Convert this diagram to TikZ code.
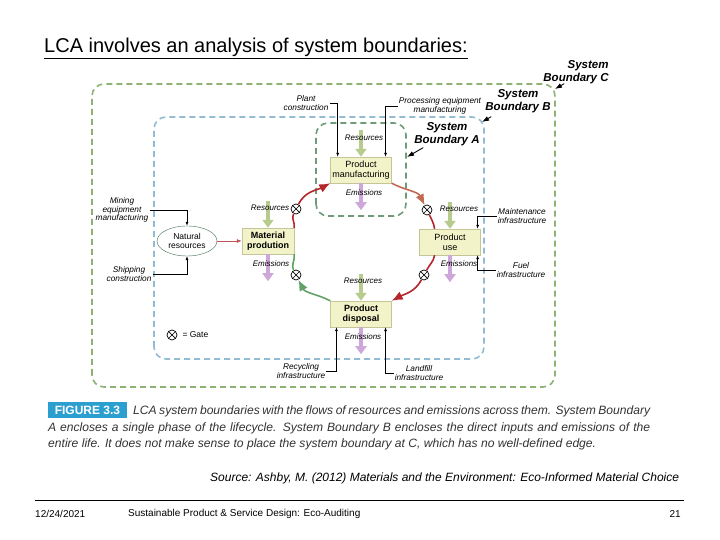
\documentclass[tikz,border=0pt]{standalone}
\usepackage{fontspec}
\setmainfont{Liberation Sans}
\usepackage{tikz}
\usetikzlibrary{arrows.meta, calc, positioning, shapes.geometric}
\definecolor{bndgreen}{HTML}{8DB273}
\definecolor{bndAgreen}{HTML}{6E9C78}
\definecolor{bndblue}{HTML}{93BCD3}
\definecolor{boxfill}{HTML}{F3F3C9}
\definecolor{boxedge}{HTML}{C4C697}
\definecolor{resgreen}{HTML}{B7CB8E}
\definecolor{emlilac}{HTML}{CDA6DA}
\definecolor{cycred}{HTML}{B3262B}
\definecolor{cycsalmon}{HTML}{C46A52}
\definecolor{cycgreen}{HTML}{62A266}
\definecolor{natedge}{HTML}{3E6E50}
\definecolor{figblue}{HTML}{2C9FD1}
\definecolor{captgray}{HTML}{333333}
\tikzset{
    stage/.style={draw=boxedge, fill=boxfill, minimum width=61pt, minimum height=26pt, inner sep=1pt, align=center, font=\fontsize{9}{10}\selectfont},
    gate/.style={circle, draw=black, fill=white, line width=0.7pt, minimum size=10pt, inner sep=0pt,
        path picture={\draw[line width=0.7pt] (path picture bounding box.north west) -- (path picture bounding box.south east)
            (path picture bounding box.north east) -- (path picture bounding box.south west);}},
    resflow/.style={draw=resgreen, line width=4pt, -{Triangle[width=11pt,length=8pt]}},
    emflow/.style={draw=emlilac, line width=4pt, -{Triangle[width=11pt,length=8pt]}},
    flowlbl/.style={font=\fontsize{8}{9}\selectfont\itshape, inner sep=0pt},
    infra/.style={font=\fontsize{8.3}{8.5}\selectfont\itshape, align=center, inner sep=1pt},
    annot/.style={draw=black, line width=0.6pt, -{Latex[length=4pt,width=3pt]}},
    bndline/.style={line width=1.6pt, dash pattern=on 6pt off 4pt, rounded corners=12pt},
    bndlbl/.style={font=\fontsize{11.5}{12.5}\selectfont\bfseries\itshape, align=center, inner sep=0pt},
    bndarrow/.style={draw=black, line width=0.9pt, -{Latex[length=7pt,width=5pt]}},
    lifeflow/.style={line width=1.6pt},
    lifehead/.style={-{Latex[length=11pt,width=9pt]}}
}

\begin{document}
\begin{tikzpicture}[x=1pt, y=1pt]
    \useasboundingbox (0,0) rectangle (720,540);
    % title
    \node[anchor=west, font=\fontsize{20}{24}\selectfont, inner sep=0pt] (title) at (44,492) {\underline{LCA involves an analysis of system boundaries:}};

    % System boundaries C, B and A
    \draw[bndline, draw=bndgreen] (92,153) rectangle (555,456);
    \draw[bndline, draw=bndblue] (154,181) rectangle (484,423);
    \draw[bndline, draw=bndAgreen] (316,324) rectangle (406,417);

    % Life stages
    \node[stage] (manu) at (361,370) {Product\\manufacturing};
    \node[stage, minimum width=52pt, font=\fontsize{9}{10}\selectfont\bfseries] (mat) at (268,299) {Material\\prodution};
    \node[stage] (use) at (450,298) {Product\\use};
    \node[stage, font=\fontsize{9}{10}\selectfont\bfseries] (disp) at (361,226) {Product\\disposal};
    \node[ellipse, draw=natedge, fill=white, minimum width=60pt, minimum height=30pt, inner sep=0pt, align=center, font=\fontsize{8.5}{9.5}\selectfont] (nat) at (187,299) {Natural\\resources};

    % Resources in, emissions out
    \foreach \st in {manu, mat, use, disp} {
        \draw[resflow] ($(\st.north)+(0,27)$) -- (\st.north);
        \draw[emflow] (\st.south) -- ($(\st.south)+(0,-27)$);
    }
    \node[flowlbl] (manu-r) at (364,402) {Resources};
    \node[flowlbl] (manu-e) at (364,347) {Emissions};
    \node[flowlbl] (mat-r) at (270,332) {Resources};
    \node[flowlbl] (mat-e) at (271,276) {Emissions};
    \node[flowlbl] (use-r) at (459,331) {Resources};
    \node[flowlbl] (use-e) at (459,276) {Emissions};
    \node[flowlbl] (disp-r) at (363,259) {Resources};
    \node[flowlbl] (disp-e) at (363,203) {Emissions};

    % Gates
    \node[gate] (g1) at (296,331) {};
    \node[gate] (g2) at (427,330) {};
    \node[gate] (g3) at (296,265) {};
    \node[gate] (g4) at (424,265) {};

    % Life cycle
    \draw[lifeflow, draw=cycred] (mat.north east) to[out=80, in=-117] (g1);
    \draw[lifeflow, draw=cycred, lifehead] (g1) to[out=63, in=-152] (manu.south west);
    \draw[lifeflow, draw=cycsalmon, lifehead] (manu.south east) to[out=-28, in=116] (g2);
    \draw[lifeflow, draw=cycred] (g2) to[out=-64, in=100] ($(use.north west)!0.25!(use.north east)$);
    \draw[lifeflow, draw=cycred] ($(use.south west)!0.25!(use.south east)$) to[out=-100, in=62] (g4);
    \draw[lifeflow, draw=cycred, lifehead] (g4) to[out=-118, in=28] (disp.north east);
    \draw[lifeflow, draw=cycgreen, lifehead] (disp.north west) to[out=153, in=-63] (g3);
    \draw[lifeflow, draw=gray!70!green] (g3) to[out=117, in=-80] (mat.south east);
    \draw[draw=cycred!80, line width=0.8pt, -{Latex[length=5pt,width=4pt]}] (nat) -- (mat);

    % Infrastructure inputs
    \node[infra] (plant) at (306,437) {Plant\\construction};
    \node[infra] (proc) at (440,434) {Processing equipment\\manufacturing};
    \node[infra] (mining) at (122,330) {Mining\\equipment\\manufacturing};
    \node[infra] (ship) at (129,266) {Shipping\\construction};
    \node[infra] (maint) at (522,324) {Maintenance\\infrastructure};
    \node[infra] (fuel) at (521,270) {Fuel\\infrastructure};
    \node[infra] (recyc) at (301,169) {Recycling\\infrastructure};
    \node[infra] (landf) at (419,167) {Landfill\\infrastructure};
    \draw[annot] (plant.east) -| ($(manu.north west)!0.12!(manu.north east)$);
    \draw[annot] (proc.west) -| ($(manu.north west)!0.9!(manu.north east)$);
    \draw[annot] (mining.east) -| (nat.north);
    \draw[annot] (ship.east) -| (nat.south);
    \draw[annot] (maint.west) -| ($(use.north west)!0.95!(use.north east)$);
    \draw[annot] (fuel.west) -| ($(use.south west)!0.95!(use.south east)$);
    \draw[annot] (recyc.east) -| ($(disp.south west)!0.1!(disp.south east)$);
    \draw[annot] (landf.west) -| ($(disp.south west)!0.9!(disp.south east)$);

    % Boundary labels
    \node[bndlbl] (sysA) at (447,406) {System\\Boundary A};
    \node[bndlbl] (sysB) at (518,439) {System\\Boundary B};
    \node[bndlbl, align=right] (sysC) at (576,468) {System\\Boundary C};
    \coordinate (edgeA) at (407,383);
    \coordinate (edgeB) at (482,418);
    \coordinate (edgeC) at (555,451);
    \draw[bndarrow] ([xshift=9pt,yshift=-2pt]sysA.south west) -- (edgeA);
    \draw[bndarrow] ([xshift=6pt,yshift=-4pt]sysB.south west) -- (edgeB);
    \draw[bndarrow] ([xshift=21pt]sysC.south west) -- (edgeC);

    % Gate key
    \node[gate] (gkey) at (172,205) {};
    \node[right=5pt of gkey, font=\fontsize{8.5}{10}\selectfont, inner sep=0pt] (gtext) {= Gate};

    % Caption
    \node[fill=figblue, text=white, font=\fontsize{12}{14}\selectfont\bfseries, minimum width=79pt, minimum height=16pt, inner sep=0pt] (figtag) at (87.5,130) {FIGURE 3.3};
    \node[anchor=west, font=\fontsize{12.1}{14}\selectfont\itshape, text=captgray, inner sep=0pt] (capt1) at (133,129) {\makebox[517pt][s]{LCA system boundaries with the flows of resources and emissions across them. System Boundary}};
    \node[anchor=west, font=\fontsize{12.1}{14}\selectfont\itshape, text=captgray, inner sep=0pt] (capt2) at (48,112) {\makebox[602pt][s]{A encloses a single phase of the lifecycle. System Boundary B encloses the direct inputs and emissions of the}};
    \node[anchor=west, font=\fontsize{12.1}{14}\selectfont\itshape, text=captgray, inner sep=0pt] (capt3) at (48,96) {entire life. It does not make sense to place the system boundary at C, which has no well-defined edge.};

    % Source and footer
    \node[anchor=west, font=\fontsize{12}{14}\selectfont\itshape, inner sep=0pt] (source) at (210,62) {Source: Ashby, M. (2012) Materials and the Environment: Eco-Informed Material Choice};
    \coordinate (ruleL) at (35,40);
    \coordinate (ruleR) at (684,40);
    \draw[line width=0.8pt] (ruleL) -- (ruleR);
    \node[anchor=west, font=\fontsize{10}{12}\selectfont, inner sep=0pt] (date) at (35,26) {12/24/2021};
    \node[anchor=west, font=\fontsize{10}{12}\selectfont, inner sep=0pt] (course) at (128,26) {Sustainable Product \& Service Design: Eco-Auditing};
    \node[anchor=east, font=\fontsize{10}{12}\selectfont, inner sep=0pt] (pageno) at (681,26) {21};
\end{tikzpicture}
\end{document}
